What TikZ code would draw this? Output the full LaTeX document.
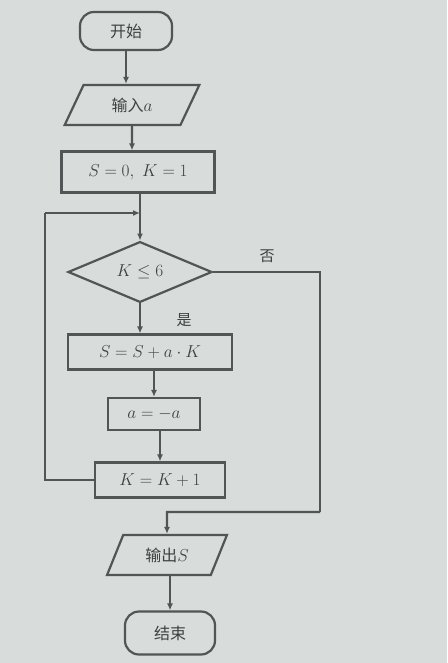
\documentclass[tikz,border=0pt]{standalone}
\usepackage{fontspec}
\newfontfamily\cjk{Noto Sans CJK SC}
\usetikzlibrary{shapes.geometric,arrows.meta}
\definecolor{bgc}{RGB}{216,221,219}
\definecolor{ink}{RGB}{80,85,85}
\definecolor{txt}{RGB}{60,65,65}
\begin{document}
\begin{tikzpicture}[x=1pt,y=1pt,
  every node/.style={font=\fontsize{16}{19}\selectfont, text=txt},
  box/.style={draw=ink, line width=2.2pt, fill=bgc, inner sep=2pt},
  term/.style={box, rounded corners=14pt},
  io/.style={box, trapezium, trapezium left angle=65, trapezium right angle=115, trapezium stretches=true},
  dec/.style={box, diamond, inner sep=0pt},
  lnk/.style={draw=ink, line width=2.2pt},
  arr/.style={lnk, -{Latex[length=7pt,width=6pt]}},
  lbl/.style={font=\cjk\fontsize{15}{17}\selectfont}
]
\fill[bgc] (0,0) rectangle (447,-663);
\useasboundingbox (0,0) rectangle (447,-663);

\node[term, minimum width=92, minimum height=38] (start) at (126,-31) {\cjk 开始};
\node[io, minimum width=135, minimum height=40] (in) at (132,-105) {{\cjk 输入}$a$};
\node[box, minimum width=153, minimum height=41] (init) at (138,-172) {$S=0,\ K=1$};
\node[dec, minimum width=144, minimum height=56] (cond) at (140,-272) {$K\le 6$};
\node[box, minimum width=164, minimum height=35] (b1) at (150,-352) {$S=S+a\cdot K$};
\node[box, minimum width=92, minimum height=32] (b2) at (154,-414) {$a=-a$};
\node[box, minimum width=130, minimum height=35] (b3) at (160,-480) {$K=K+1$};
\node[io, minimum width=120, minimum height=40] (out) at (167,-555) {{\cjk 输出}$S$};
\node[term, minimum width=90, minimum height=43] (end) at (170,-633) {\cjk 结束};

\coordinate (j) at (140,-213);
\coordinate (loopL) at (45,-480);
\coordinate (noR) at (320,-272);
\coordinate (noB) at (320,-512);

\draw[arr] (start) -- (start |- in.north);
\draw[arr] (in) -- (in.south |- init.north);
\draw[arr] (init.south -| j) -- (cond.north);
\draw[arr] (cond.south) -- (cond.south |- b1.north);
\draw[arr] (b1.south -| b2) -- (b2.north);
\draw[arr] (b2.south -| b3) -- (b3.north);
\draw[lnk] (b3.west) -- (loopL) -- (loopL |- j);
\draw[arr] (loopL |- j) -- (j);
\draw[lnk] (cond.east) -- (noR) -- (noB);
\draw[arr] (noB) -- (noB -| out) -- (out.north);
\draw[arr] (out.south -| end) -- (end.north);

\node[lbl] (no) at (267,-256) {否};
\node[lbl] (yes) at (184,-320) {是};
\end{tikzpicture}
\end{document}
